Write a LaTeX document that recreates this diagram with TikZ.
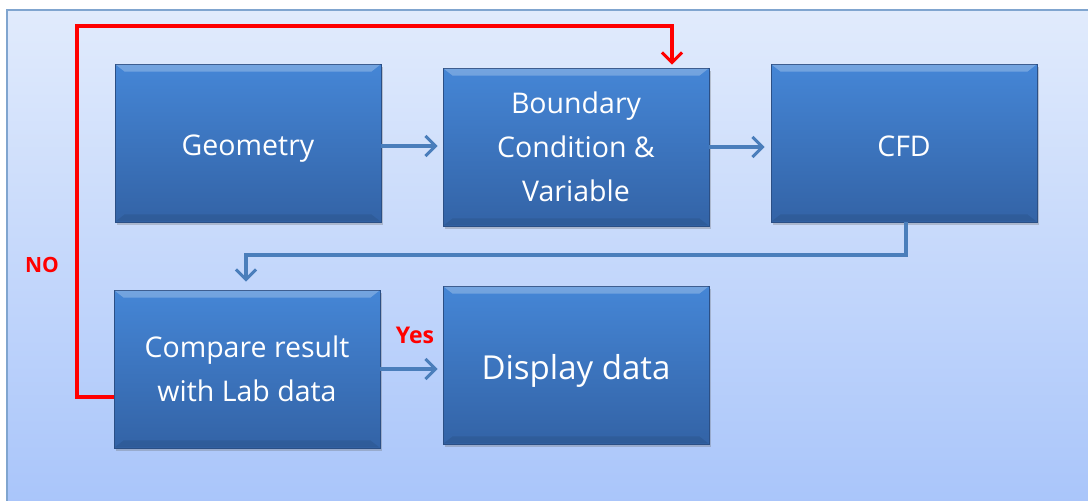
\documentclass[tikz,border=0pt]{standalone}
\usepackage{fontspec}
\setmainfont{Open Sans}
\usetikzlibrary{arrows.meta,shadows,calc}
\definecolor{panelTop}{HTML}{E1EBFC}
\definecolor{panelBot}{HTML}{A9C5FA}
\definecolor{boxTop}{HTML}{4586D6}
\definecolor{boxBot}{HTML}{3363A6}
\definecolor{boxEdge}{HTML}{2B4F85}
\definecolor{flow}{HTML}{4A7EBB}
\definecolor{loop}{HTML}{FF0000}
% shift a single line of text down without changing its reported size
\newcommand{\lowered}[2][6pt]{\raisebox{-#1}[\height][\depth]{#2}}
\tikzset{
  px/.style={x=1pt,y=-1pt},
  stage/.style={rectangle, draw=boxEdge, line width=0.8pt,
    top color=boxTop, bottom color=boxBot, text=white,
    minimum width=266pt, minimum height=158pt, align=center,
    font=\fontsize{28.5}{44}\selectfont,
    drop shadow={shadow xshift=2pt, shadow yshift=-3pt, opacity=0.3, fill=black!60}},
  flowarrow/.style={draw=flow, line width=4pt, -{Straight Barb[length=10pt,width=20pt,line width=3pt]}},
  looparrow/.style={draw=loop, line width=4pt, -{Straight Barb[length=10pt,width=20pt,line width=3pt]}},
  tag/.style={text=loop, font=\bfseries\fontsize{#1}{24}\selectfont},
  tag/.default=21
}
\begin{document}
\begin{tikzpicture}[px]
  % page and gradient panel
  \useasboundingbox (0,0) rectangle (1088,501);
  \fill[white] (0,0) rectangle (1088,501);
  \shade[top color=panelTop, bottom color=panelBot] (7,10) rectangle (1092,505);
  \draw[flow!70, line width=1.5pt] (7,505) -- (7,10) -- (1092,10);

  % stages
  \node[stage] (geo) at (248,143) {\lowered{Geometry}};
  \node[stage] (bc) at (576,147) {Boundary\\Condition \&\\Variable};
  \node[stage] (cfd) at (904,143) {\lowered[3pt]{CFD}};
  \node[stage] (cmp) at (247,369) {Compare result\\with Lab data};
  \node[stage, font=\fontsize{33}{44}\selectfont] (disp) at (576,365) {\lowered{Display data}};

  % bevelled edges: lit top, shaded bottom
  \foreach \n in {geo,bc,cfd,cmp,disp}{
    \fill[white, opacity=0.25] ($(\n.north west)+(1,1)$) -- ($(\n.north east)+(-1,1)$)
      -- ($(\n.north east)+(-10,8)$) -- ($(\n.north west)+(10,8)$) -- cycle;
    \fill[black, opacity=0.08] ($(\n.south west)+(1,-1)$) -- ($(\n.south east)+(-1,-1)$)
      -- ($(\n.south east)+(-10,-8)$) -- ($(\n.south west)+(10,-8)$) -- cycle;
  }

  % flow connectors
  \coordinate (a1) at ($(geo.east)+(0,3)$);
  \draw[flowarrow] (a1) -- (a1 -| {$(bc.west)+(-5,0)$});
  \coordinate (a2) at ($(bc.east)+(0,0)$);
  \draw[flowarrow] (a2) -- (a2 -| {$(cfd.west)+(-6,0)$});
  \coordinate (c0) at ($(cfd.south)+(2,0)$);
  \coordinate (c1) at ($(c0)+(0,33)$);
  \draw[flowarrow] (c0) -- (c1) -| ($(cmp.north)+(-1,-8)$);
  \coordinate (a4) at (cmp.east);
  \draw[flowarrow] (a4) -- (a4 -| {$(disp.west)+(-5,0)$});

  % feedback loop
  \coordinate (l0) at ($(cmp.west)+(0,28)$);
  \coordinate (l1) at ($(l0)+(-37,0)$);
  \coordinate (l2) at (l1 |- 0,26);
  \draw[looparrow] (l0) -- (l1) -- (l2) -| ($(bc.north)+(96,-3)$);

  % labels
  \node[tag] (no) at (42,265) {NO};
  \node[tag=23] (yes) at (415,335) {Yes};
\end{tikzpicture}
\end{document}
